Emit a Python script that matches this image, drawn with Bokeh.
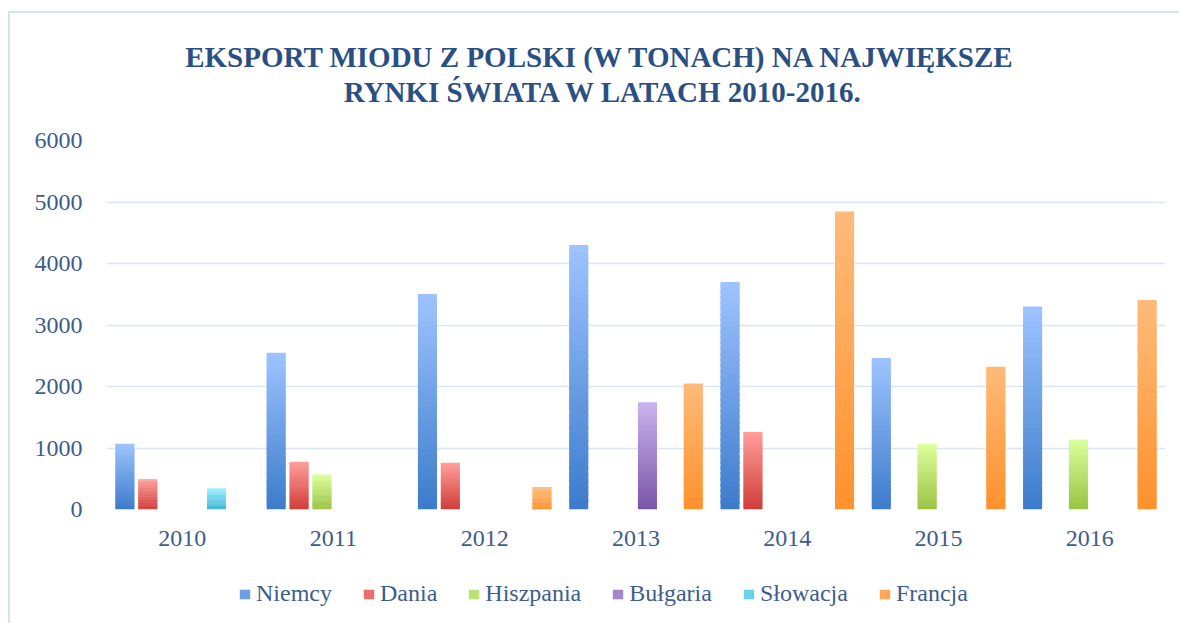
from bokeh.plotting import figure
from bokeh.layouts import column
from bokeh.models import (ColumnDataSource, FactorRange, Range1d, Legend, LegendItem,
                          Label, SingleIntervalTicker)
from bokeh.transform import dodge
from bokeh.embed import file_html
from bokeh.resources import INLINE

# ---------------- data ----------------
years = ["2010", "2011", "2012", "2013", "2014", "2015", "2016"]
series = ["Niemcy", "Dania", "Hiszpania", "Bułgaria", "Słowacja", "Francja"]
niemcy = [1070, 2550, 3505, 4300, 3700, 2465, 3300]
dania = [490, 775, 760, 0, 1260, 0, 0]
hiszpania = [0, 570, 0, 0, 0, 1070, 1140]
bulgaria = [0, 0, 0, 1745, 0, 0, 0]
slowacja = [340, 0, 0, 0, 0, 0, 0]
francja = [0, 0, 365, 2050, 4845, 2320, 3405]
title_line1 = "EKSPORT MIODU Z POLSKI (W TONACH) NA NAJWIĘKSZE"
title_line2 = "RYNKI ŚWIATA W LATACH 2010-2016."

values = [niemcy, dania, hiszpania, bulgaria, slowacja, francja]
top_colors = ["#9EC4FF", "#FF9F9C", "#DCFF9F", "#CAB4EE", "#98EEFF", "#FFBB7A"]
bottom_colors = ["#3C7BCB", "#D03D3A", "#9BC344", "#7A55A7", "#3AB2D2", "#FF912C"]

TEXT = "#3D5D8C"
TITLE = "#2A4F82"
GRID = "#DCE6F2"
FONT = "Liberation Serif"
W = 1169


def mix(c1, c2, t):
    a = [int(c1[i:i + 2], 16) for i in (1, 3, 5)]
    b = [int(c2[i:i + 2], 16) for i in (1, 3, 5)]
    return "#%02x%02x%02x" % tuple(round(a[j] + (b[j] - a[j]) * t) for j in range(3))


# ---------------- chart ----------------
x_range = FactorRange(*years)
p = figure(x_range=x_range, y_range=Range1d(0, 6000),
           width=W, height=453, output_backend="svg", toolbar_location=None,
           min_border_left=96, min_border_right=14, min_border_top=20,
           min_border_bottom=64)
p.outline_line_color = None
p.background_fill_color = "white"
p.border_fill_color = "white"
p.xgrid.grid_line_color = None
p.ygrid.grid_line_color = GRID
p.ygrid.grid_line_width = 1.5
p.yaxis.ticker = SingleIntervalTicker(interval=1000)
for ax in (p.xaxis[0], p.yaxis[0]):
    ax.axis_line_color = None
    ax.major_tick_line_color = None
    ax.minor_tick_line_color = None
    ax.major_label_text_font = FONT
    ax.major_label_text_color = TEXT
    ax.major_label_text_font_size = "24px"
p.yaxis.major_label_standoff = 18
p.xaxis.major_label_standoff = 15

N = 40
slot = 0.1514
bar_w = 0.1257
sources = []
for i, (name, vals) in enumerate(zip(series, values)):
    xs, bots, tops, cols = [], [], [], []
    for yr, v in zip(years, vals):
        if v <= 0:
            continue
        for k in range(N):
            xs.append(yr)
            bots.append(v * k / N)
            tops.append(min(v, v * (k + 1.6) / N))
            cols.append(mix(bottom_colors[i], top_colors[i], (k + 0.5) / N))
    src = ColumnDataSource(dict(x=xs, bottom=bots, top=tops, color=cols))
    sources.append(src)
    p.vbar(x=dodge("x", (i - 2.5) * slot, range=x_range), bottom="bottom", top="top",
           width=bar_w, fill_color="color", line_color=None, source=src)


def blank(h, xr, yr):
    f = figure(width=W, height=h, output_backend="svg", toolbar_location=None,
               x_range=xr, y_range=yr,
               x_axis_location=None, y_axis_location=None, min_border=0)
    f.grid.visible = False
    f.outline_line_color = None
    f.border_fill_color = "white"
    f.background_fill_color = "white"
    return f


# ---------------- title (frame aligned with the chart frame) ----------------
pt = blank(107, Range1d(0, 1), Range1d(0, 1))
for txt, xx, yy in ((title_line1, 494, 64), (title_line2, 497, 29)):
    pt.add_layout(Label(x=xx, y=yy, x_units="screen", y_units="screen", text=txt,
                        text_align="center", text_baseline="middle", text_font=FONT,
                        text_font_style="bold", text_font_size="29px", text_color=TITLE))

# ---------------- legend (bars of this strip lie far below its y range) ----------------
pl = blank(50, x_range, Range1d(100000, 100001))
items = []
for i, name in enumerate(series):
    r = pl.vbar(x=dodge("x", (i - 2.5) * slot, range=x_range), bottom="bottom", top="top",
                width=bar_w, fill_color="color", line_color=None, source=sources[i])
    items.append(LegendItem(label=name, renderers=[r], index=N // 2))
legend = Legend(items=items, orientation="horizontal", location=(132, 16),
                label_text_font=FONT, label_text_color=TEXT, label_text_font_size="24px",
                glyph_width=13, glyph_height=12, label_standoff=5, spacing=30,
                padding=0, margin=0, border_line_color=None, background_fill_alpha=0)
pl.add_layout(legend, "center")

layout = column(pt, p, pl, spacing=0,
                styles={"border-left": "2px solid #D6E3F4", "border-top": "2px solid #D6E3F4",
                        "margin-top": "11px", "margin-left": "8px"})

open("out.html", "w").write(file_html(layout, INLINE))
